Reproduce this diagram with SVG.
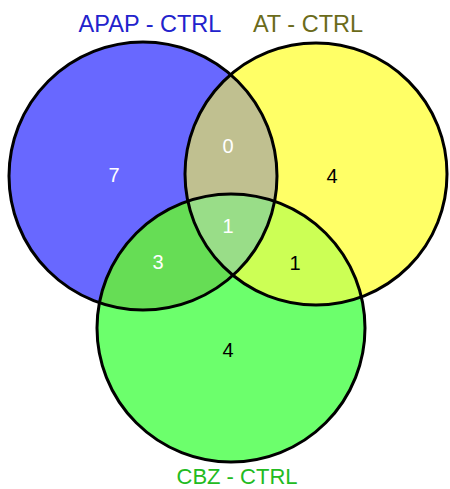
<svg xmlns="http://www.w3.org/2000/svg" width="450" height="489" viewBox="0 0 450 489">
<style>
.ring{fill:none;stroke:#000;stroke-width:3}
.lbl{font-family:"Liberation Sans",Arial,sans-serif;font-size:23.5px;text-anchor:middle}
.lblb{font-family:"Liberation Sans",Arial,sans-serif;font-size:22px;text-anchor:middle}
.num{font-family:"Liberation Sans",Arial,sans-serif;font-size:20px;text-anchor:middle}
.w{fill:#fff}.k{fill:#000}
</style>
<defs>
<clipPath id="cA"><circle cx="143" cy="176" r="134"/></clipPath>
<clipPath id="cB"><circle cx="316" cy="174" r="131"/></clipPath>
<clipPath id="cC"><circle cx="231" cy="328" r="134"/></clipPath>
</defs>
<rect width="450" height="489" fill="#fff"/>
<g id="fills">
<circle cx="143" cy="176" r="134" fill="#6868ff"/>
<circle cx="316" cy="174" r="131" fill="#ffff66"/>
<circle cx="231" cy="328" r="134" fill="#6cff6c"/>
<g clip-path="url(#cA)"><circle cx="316" cy="174" r="131" fill="#c0c090"/><circle cx="231" cy="328" r="134" fill="#66dd55"/></g>
<g clip-path="url(#cB)"><circle cx="231" cy="328" r="134" fill="#ccff55"/></g>
<g clip-path="url(#cA)"><g clip-path="url(#cB)"><circle cx="231" cy="328" r="134" fill="#99dd88"/></g></g>
</g>
<g id="setA"><circle class="ring" cx="143" cy="176" r="134"/><text class="lbl" x="150" y="32" fill="#2222cc">APAP - CTRL</text></g>
<g id="setB"><circle class="ring" cx="316" cy="174" r="131"/><text class="lbl" x="308" y="32" fill="#6b6b1a">AT - CTRL</text></g>
<g id="setC"><circle class="ring" cx="231" cy="328" r="134"/><text class="lblb" x="237" y="484" fill="#22bb22">CBZ - CTRL</text></g>
<g id="counts">
<text class="num w" x="114" y="182">7</text>
<text class="num w" x="228" y="153">0</text>
<text class="num k" x="332" y="183">4</text>
<text class="num w" x="228" y="233">1</text>
<text class="num w" x="158" y="269">3</text>
<text class="num k" x="295" y="270">1</text>
<text class="num k" x="228" y="357">4</text>
</g>
</svg>
